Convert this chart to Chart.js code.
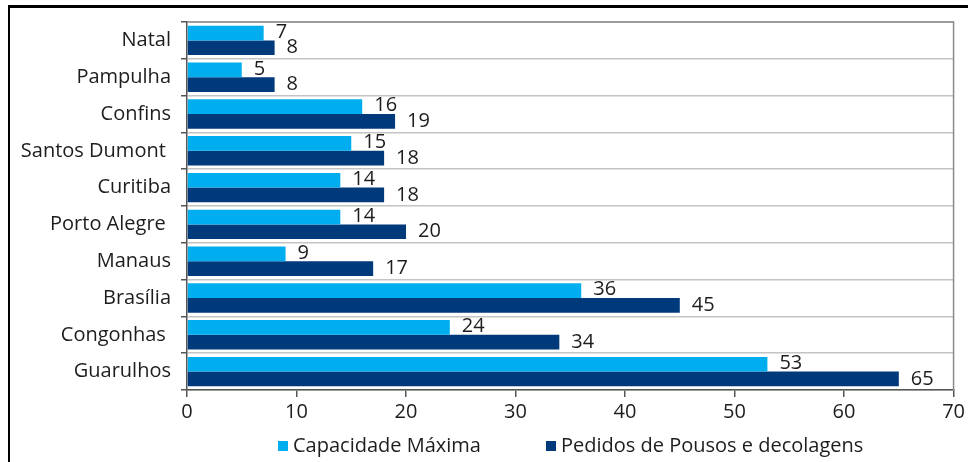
<!DOCTYPE html>
<html>
<head>
<meta charset="utf-8">
<script src="https://cdn.jsdelivr.net/npm/chart.js@4/dist/chart.umd.min.js"></script>
<style>
    body { margin: 0; background: #fff; }
    #wrap { position: relative; width: 968px; height: 462px; }
    #frame { position: absolute; left: 8px; top: 5px; right: 0; bottom: 0;
             border-top: 3px solid #000; border-left: 2px solid #000; pointer-events: none; }
</style>
</head>
<body>
<div id="wrap">
    <canvas id="chart" width="968" height="462"></canvas>
    <div id="frame"></div>
</div>
<script>
// data, top to bottom
var airports = ['Natal', 'Pampulha', 'Confins', 'Santos Dumont ', 'Curitiba', 'Porto Alegre ', 'Manaus', 'Brasília', 'Congonhas ', 'Guarulhos'];
var capacidade = [7, 5, 16, 15, 14, 14, 9, 36, 24, 53];
var pedidos = [8, 8, 19, 18, 18, 20, 17, 45, 34, 65];
var seriesNames = ['Capacidade Máxima', 'Pedidos de Pousos e decolagens'];
var xTicks = [0, 10, 20, 30, 40, 50, 60, 70];

var FONT = '"Open Sans", "Liberation Sans", sans-serif';
var TEXT = '#1e1c1d';
var SIZE = 20;

// numbers after the end of each bar
var valueLabels = {
    id: 'valueLabels',
    afterDatasetsDraw: function(chart) {
        var ctx = chart.ctx;
        ctx.save();
        ctx.font = SIZE + 'px ' + FONT;
        ctx.fillStyle = TEXT;
        ctx.textAlign = 'left';
        ctx.textBaseline = 'middle';
        chart.data.datasets.forEach(function(ds, i) {
            chart.getDatasetMeta(i).data.forEach(function(bar, j) {
                ctx.fillText(String(ds.data[j]), bar.x + 12, bar.y - (i === 0 ? 1 : 0));
            });
        });
        ctx.restore();
    }
};

// grey box round the plot area
var plotFrame = {
    id: 'plotFrame',
    afterDraw: function(chart) {
        var a = chart.chartArea, ctx = chart.ctx;
        ctx.save();
        ctx.strokeStyle = '#8a8a8a';
        ctx.lineWidth = 1.5;
        ctx.beginPath();
        ctx.moveTo(a.left, a.top);
        ctx.lineTo(a.right, a.top);
        ctx.lineTo(a.right, a.bottom);
        ctx.stroke();
        ctx.restore();
    }
};

// legend with the wide gap of the original
var bottomLegend = {
    id: 'bottomLegend',
    afterDraw: function(chart) {
        var a = chart.chartArea, ctx = chart.ctx;
        var offsets = [91, 359];
        ctx.save();
        ctx.font = SIZE + 'px ' + FONT;
        ctx.textBaseline = 'middle';
        ctx.textAlign = 'left';
        chart.data.datasets.forEach(function(ds, i) {
            var x = a.left + offsets[i], y = 446;
            ctx.fillStyle = ds.backgroundColor;
            ctx.fillRect(x, y - 5, 10, 10);
            ctx.fillStyle = TEXT;
            ctx.fillText(ds.label, x + 15, y);
        });
        ctx.restore();
    }
};

var ctx = document.getElementById('chart');
var myBarChart = new Chart(ctx, {
    type: 'bar',
    data: {
        labels: airports,
        datasets: [
            {
                label: seriesNames[0],
                data: capacidade,
                backgroundColor: '#00aeef',
                categoryPercentage: 0.8,
                barPercentage: 1.0
            },
            {
                label: seriesNames[1],
                data: pedidos,
                backgroundColor: '#003a7a',
                categoryPercentage: 0.8,
                barPercentage: 1.0
            }
        ]
    },
    options: {
        indexAxis: 'y',
        responsive: false,
        animation: false,
        layout: { padding: { top: 14, right: 13, bottom: 42, left: 0 } },
        plugins: {
            legend: { display: false },
            tooltip: { enabled: false }
        },
        scales: {
            x: {
                min: xTicks[0],
                max: xTicks[xTicks.length - 1],
                afterBuildTicks: function(scale) {
                    scale.ticks = xTicks.map(function(v) { return {value: v}; });
                },
                afterFit: function(scale) { scale.height = 30; },
                grid: { drawOnChartArea: false, drawTicks: true, tickLength: 7, tickColor: '#555', lineWidth: 1.5 },
                border: { display: true, color: '#555', width: 1.5 },
                ticks: { color: TEXT, font: { family: FONT, size: SIZE }, padding: 3 }
            },
            y: {
                afterFit: function(scale) { scale.width = 187; },
                grid: { offset: true, color: '#c4c4c4', lineWidth: 1.5, tickLength: 6, tickColor: '#555' },
                border: { display: true, color: '#555', width: 1.5 },
                ticks: { color: TEXT, font: { family: FONT, size: SIZE }, padding: 10 }
            }
        }
    },
    plugins: [valueLabels, plotFrame, bottomLegend]
});
</script>
</body>
</html>
